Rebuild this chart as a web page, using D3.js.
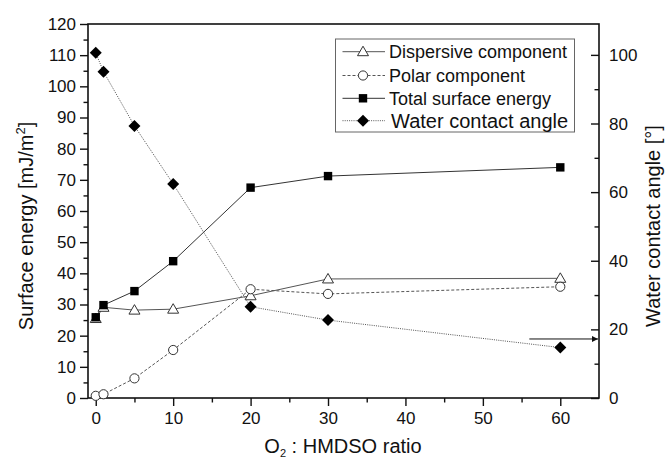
<!DOCTYPE html>
<html>
<head>
<meta charset="utf-8">
<script src="https://cdn.jsdelivr.net/npm/d3@7"></script>
<style>
  html, body { margin: 0; padding: 0; background: #fff; }
  svg { display: block; font-family: 'Liberation Sans', Arial, sans-serif; }
</style>
</head>
<body>
<div class="graph"></div>
<script>
// data
var ratios = [0, 1, 5, 10, 20, 30, 60];
var dispersive = [25.5, 29.1, 28.2, 28.5, 32.8, 38.2, 38.4];
var polar = [0.7, 1.2, 6.3, 15.4, 34.9, 33.4, 35.7];
var totalEnergy = [25.9, 29.8, 34.3, 43.9, 67.5, 71.2, 74.0];
var contactAngle = [100.6, 95.1, 79.3, 62.4, 26.6, 22.7, 14.7];

var xTicks = [0, 10, 20, 30, 40, 50, 60];
var yLeftTicks = [0, 10, 20, 30, 40, 50, 60, 70, 80, 90, 100, 110, 120];
var yRightTicks = [0, 20, 40, 60, 80, 100];
var legendLabels = ['Dispersive component', 'Polar component', 'Total surface energy', 'Water contact angle'];
var arrowFrom = [56, 17.2];

var width = 667, height = 461;
var plotLeft = 88, plotRight = 599, plotTop = 24, plotBottom = 398;

var svg = d3.select('.graph')
    .append('svg')
    .attr('width', width)
    .attr('height', height);

var xScale = d3.scaleLinear().domain([-1, 65]).range([plotLeft, plotRight]);
var yLeft = d3.scaleLinear().domain([0, 120]).range([plotBottom, plotTop]);
var yRight = d3.scaleLinear().domain([0, 109]).range([plotBottom, plotTop]);

// minor ticks first, then majors
function minorAxis(axis, values) {
    return axis.tickValues(values).tickSize(4.5).tickFormat('');
}

svg.append('g')
    .attr('transform', 'translate(0,' + plotBottom + ')')
    .call(minorAxis(d3.axisBottom(xScale), d3.range(5, 65, 10)));
svg.append('g')
    .attr('transform', 'translate(' + plotLeft + ',0)')
    .call(minorAxis(d3.axisLeft(yLeft), d3.range(5, 120, 10)));
svg.append('g')
    .attr('transform', 'translate(' + plotRight + ',0)')
    .call(minorAxis(d3.axisLeft(yRight), d3.range(10, 109, 20)));

svg.append('g')
    .attr('transform', 'translate(0,' + plotBottom + ')')
    .call(d3.axisBottom(xScale).tickValues(xTicks).tickSize(8).tickPadding(6));

svg.append('g')
    .attr('transform', 'translate(' + plotLeft + ',0)')
    .call(d3.axisLeft(yLeft).tickValues(yLeftTicks).tickSize(8).tickPadding(4));

svg.append('g')
    .attr('transform', 'translate(' + plotRight + ',0)')
    .call(d3.axisLeft(yRight).tickValues(yRightTicks).tickSize(8).tickFormat(''));

// right labels sit outside while ticks point inward
svg.append('g')
    .selectAll('text')
    .data(yRightTicks)
    .enter()
    .append('text')
    .attr('x', plotRight + 10)
    .attr('y', function (d) { return yRight(d) + 6; })
    .attr('font-size', 17)
    .attr('fill', '#111')
    .text(function (d) { return d; });

svg.selectAll('.domain').remove();
svg.selectAll('.tick line').attr('stroke', '#111').attr('stroke-width', 1.4);
svg.selectAll('.tick text').attr('font-size', 17).attr('fill', '#111')
    .attr('font-family', "'Liberation Sans', Arial, sans-serif");

// frame
svg.append('rect')
    .attr('x', plotLeft)
    .attr('y', plotTop)
    .attr('width', plotRight - plotLeft)
    .attr('height', plotBottom - plotTop)
    .attr('fill', 'none')
    .attr('stroke', '#111')
    .attr('stroke-width', 1.6);

var series = [
    { values: dispersive, y: yLeft, stroke: '#555', dash: null, shape: 'triangle' },
    { values: polar, y: yLeft, stroke: '#555', dash: '3,2', shape: 'circle' },
    { values: totalEnergy, y: yLeft, stroke: '#333', dash: null, shape: 'square' },
    { values: contactAngle, y: yRight, stroke: '#555', dash: '1,1.2', shape: 'diamond' }
];

function drawMarker(g, shape, cx, cy) {
    if (shape === 'triangle') {
        g.append('path')
            .attr('d', 'M' + cx + ',' + (cy - 5.5) + 'L' + (cx + 5.5) + ',' + (cy + 4) + 'L' + (cx - 5.5) + ',' + (cy + 4) + 'Z')
            .attr('fill', '#fff').attr('stroke', '#333').attr('stroke-width', 1);
    } else if (shape === 'circle') {
        g.append('circle')
            .attr('cx', cx).attr('cy', cy).attr('r', 4.6)
            .attr('fill', '#fff').attr('stroke', '#333').attr('stroke-width', 1);
    } else if (shape === 'square') {
        g.append('rect')
            .attr('x', cx - 4.2).attr('y', cy - 4.2).attr('width', 8.4).attr('height', 8.4)
            .attr('fill', '#000');
    } else {
        g.append('path')
            .attr('d', 'M' + cx + ',' + (cy - 6) + 'L' + (cx + 6) + ',' + cy + 'L' + cx + ',' + (cy + 6) + 'L' + (cx - 6) + ',' + cy + 'Z')
            .attr('fill', '#000');
    }
}

series.forEach(function (s) {
    var line = d3.line()
        .x(function (d, i) { return xScale(ratios[i]); })
        .y(function (d) { return s.y(d); });
    svg.append('path')
        .datum(s.values)
        .attr('d', line)
        .attr('fill', 'none')
        .attr('stroke', s.stroke)
        .attr('stroke-width', 1)
        .attr('stroke-dasharray', s.dash);
});

series.forEach(function (s) {
    var g = svg.append('g');
    s.values.forEach(function (v, i) {
        drawMarker(g, s.shape, xScale(ratios[i]), s.y(v));
    });
});

// arrow pointing to the right axis
svg.append('defs').append('marker')
    .attr('id', 'arrow')
    .attr('viewBox', '0 0 10 10')
    .attr('refX', 10).attr('refY', 5)
    .attr('markerWidth', 10).attr('markerHeight', 6)
    .attr('markerUnits', 'userSpaceOnUse')
    .attr('orient', 'auto')
    .append('path')
    .attr('d', 'M0,0L10,5L0,10Z')
    .attr('fill', '#111');

svg.append('line')
    .attr('x1', xScale(arrowFrom[0]))
    .attr('y1', yRight(arrowFrom[1]))
    .attr('x2', plotRight - 1)
    .attr('y2', yRight(arrowFrom[1]))
    .attr('stroke', '#111')
    .attr('stroke-width', 1)
    .attr('marker-end', 'url(#arrow)');

// legend
var legend = svg.append('g');
legend.append('rect')
    .attr('x', 335.5).attr('y', 39)
    .attr('width', 239).attr('height', 93)
    .attr('fill', '#fff')
    .attr('stroke', '#666')
    .attr('stroke-width', 1);

var rowY = [51.7, 75.5, 98.3, 120.7];
series.forEach(function (s, i) {
    legend.append('line')
        .attr('x1', 342.5).attr('x2', 385)
        .attr('y1', rowY[i]).attr('y2', rowY[i])
        .attr('stroke', s.stroke)
        .attr('stroke-width', 1)
        .attr('stroke-dasharray', s.dash);
    drawMarker(legend, s.shape, 363, rowY[i]);
    legend.append('text')
        .attr('x', i === 3 ? 391 : 389)
        .attr('y', rowY[i] + (i === 3 ? 7 : 6.5))
        .attr('font-size', i === 3 ? 20 : 18)
        .attr('fill', '#111')
        .text(legendLabels[i]);
});

// axis titles
var yTitle = svg.append('text')
    .attr('transform', 'translate(33,226) rotate(-90)')
    .attr('text-anchor', 'middle')
    .attr('font-size', 20)
    .attr('fill', '#111');
yTitle.append('tspan').text('Surface energy [mJ/m');
yTitle.append('tspan').attr('font-size', 13).attr('dy', -8).text('2');
yTitle.append('tspan').attr('dy', 8).text(']');

svg.append('text')
    .attr('transform', 'translate(660,226) rotate(-90)')
    .attr('text-anchor', 'middle')
    .attr('font-size', 20)
    .attr('fill', '#111')
    .text('Water contact angle [°]');

var xTitle = svg.append('text')
    .attr('x', 343)
    .attr('y', 453)
    .attr('text-anchor', 'middle')
    .attr('font-size', 20)
    .attr('fill', '#111');
xTitle.append('tspan').text('O');
xTitle.append('tspan').attr('font-size', 11).attr('dy', 3.5).text('2');
xTitle.append('tspan').attr('dy', -3.5).text(' : HMDSO ratio');
</script>
</body>
</html>
